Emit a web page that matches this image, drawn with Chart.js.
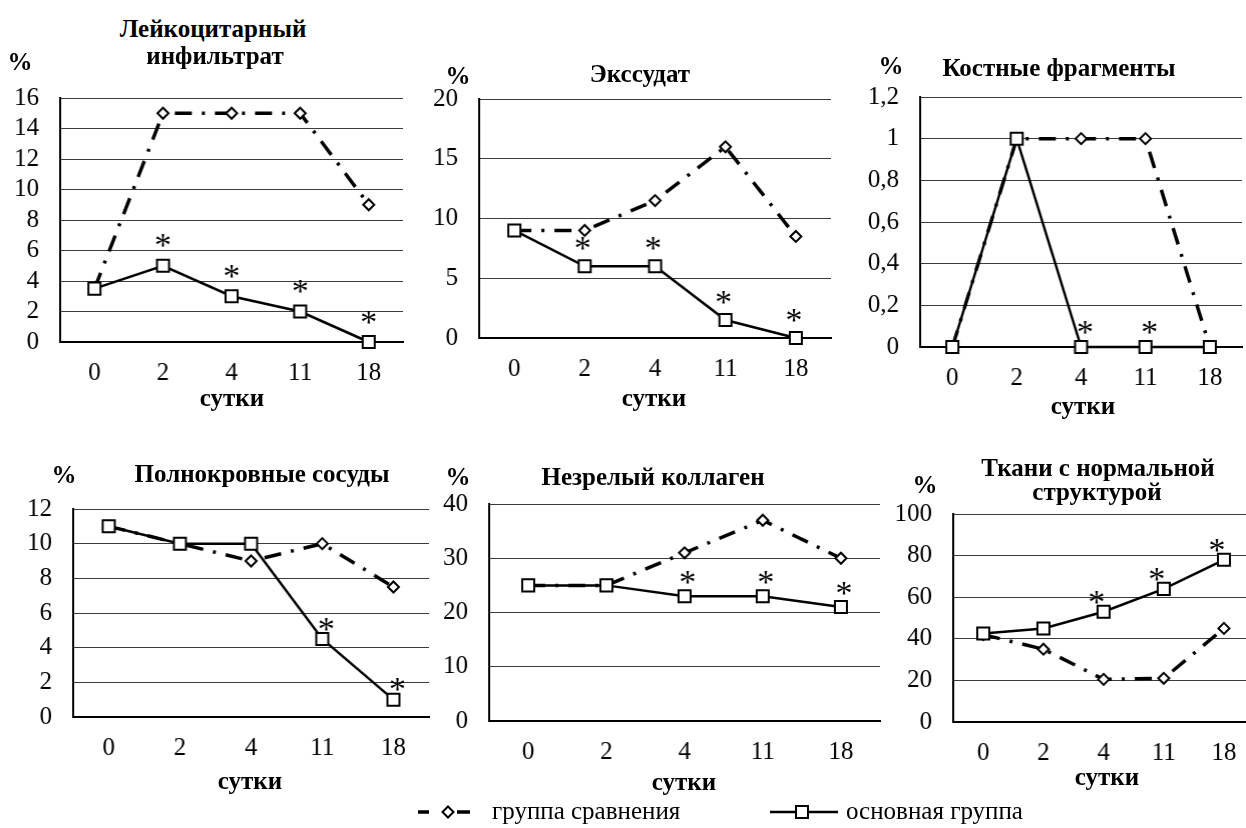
<!DOCTYPE html>
<html><head><meta charset="utf-8">
<script src="https://cdn.jsdelivr.net/npm/chart.js@4.4.1/dist/chart.umd.min.js"></script>
<style>
html,body{margin:0;padding:0;background:#fff;width:1246px;height:828px;overflow:hidden;position:relative;font-family:"Liberation Serif","Times New Roman",serif;color:#000;}
.t{position:absolute;transform:translate(-50%,-50%);white-space:nowrap;font-weight:bold;font-size:25px;line-height:1;}
.lg{position:absolute;transform:translateY(-50%);white-space:nowrap;font-size:25px;line-height:1;}
canvas{position:absolute;}
svg{position:absolute;left:0;top:0;}
</style></head><body>
<script>
// ---- data ----
const days = ['0', '2', '4', '11', '18'];

const leukCompare = [3.5, 15, 15, 15, 9];
const leukMain    = [3.5, 5, 3, 2, 0];
const leukStars   = [0, 1, 1, 1, 1];

const exudCompare = [9, 9, 11.5, 16, 8.5];
const exudMain    = [9, 6, 6, 1.5, 0];
const exudStars   = [0, 1, 1, 1, 1];

const boneCompare = [0, 1, 1, 1, 0];
const boneMain    = [0, 1, 0, 0, 0];
const boneStars   = [0, 0, 1, 1, 0];

const vesCompare  = [11, 10, 9, 10, 7.5];
const vesMain     = [11, 10, 10, 4.5, 1];
const vesStars    = [0, 0, 0, 1, 1];

const collCompare = [25, 25, 31, 37, 30];
const collMain    = [25, 25, 23, 23, 21];
const collStars   = [0, 0, 1, 1, 1];

const tissCompare = [42, 35, 20.5, 21, 45];
const tissMain    = [42.5, 45, 53, 64, 78];
const tissStars   = [0, 0, 1, 1, 1];

const yMax  = [16, 20, 1.2, 12, 40, 100];
const yStep = [2, 5, 0.2, 2, 10, 20];

const titles = [
  ['Лейкоцитарный', 'инфильтрат'],
  ['Экссудат'],
  ['Костные фрагменты'],
  ['Полнокровные сосуды'],
  ['Незрелый коллаген'],
  ['Ткани с нормальной', 'структурой']
];
const unitLabel = '%';
const axisLabel = 'сутки';
const legendCompare = 'группа сравнения';
const legendMain = 'основная группа';

// ---- layout (styles) ----
const panels = [
  {cmp: leukCompare, main: leukMain, stars: leukStars, box:{l:60, t:98, r:402, b:342},
   title:[[213,28],[215,55]], pct:[20,61], xl:[232,397], sd:[0,-25]},
  {cmp: exudCompare, main: exudMain, stars: exudStars, box:{l:479, t:99, r:830, b:338},
   title:[[640,73]], pct:[458,75], xl:[654,397], sd:[-2,-23]},
  {cmp: boneCompare, main: boneMain, stars: boneStars, box:{l:920, t:97, r:1241, b:347},
   title:[[1059,67]], pct:[891,65], xl:[1083,405], sd:[4,-20]},
  {cmp: vesCompare, main: vesMain, stars: vesStars, box:{l:73, t:509, r:428, b:717},
   title:[[262,473]], pct:[64,474], xl:[250,780], sd:[4,-15]},
  {cmp: collCompare, main: collMain, stars: collStars, box:{l:489, t:504, r:879, b:721},
   title:[[653,476]], pct:[458,476], xl:[684,781], sd:[3,-19]},
  {cmp: tissCompare, main: tissMain, stars: tissStars, box:{l:953, t:514, r:1253, b:722},
   title:[[1098,467],[1097,491]], pct:[925,484], xl:[1107,776], sd:[-7,-14]}
];

const FONT = '"Liberation Serif", "Times New Roman", serif';

function addText(cls, txt, x, y) {
  const d = document.createElement('div');
  d.className = cls; d.textContent = txt;
  d.style.left = x + 'px'; d.style.top = y + 'px';
  document.body.appendChild(d);
}

function starPlugin(flags, dx, dy) {
  return {
    id: 'stars',
    afterDatasetsDraw(chart) {
      const meta = chart.getDatasetMeta(0);
      const ctx = chart.ctx;
      ctx.save();
      ctx.font = '34px ' + FONT;
      ctx.fillStyle = '#000';
      ctx.textAlign = 'center';
      ctx.textBaseline = 'alphabetic';
      const m = ctx.measureText('*');
      const cy = (m.actualBoundingBoxAscent - m.actualBoundingBoxDescent) / 2;
      flags.forEach((f, i) => {
        if (!f) return;
        const p = meta.data[i];
        ctx.fillText('*', p.x + dx, p.y + dy + cy);
      });
      ctx.restore();
    }
  };
}

const YW = 70, PR = 10, XH = 50, TOPGUESS = 15;

panels.forEach((p, k) => {
  const W = p.box.r - p.box.l + YW + PR;
  const H = p.box.b - p.box.t + TOPGUESS + XH;
  const c = document.createElement('canvas');
  c.width = W; c.height = H;
  c.style.width = W + 'px'; c.style.height = H + 'px';
  document.body.appendChild(c);

  const chart = new Chart(c, {
    type: 'line',
    data: {
      labels: days,
      datasets: [
        {label: legendMain, data: p.main, borderColor: '#000', borderWidth: 2.5,
         pointStyle: 'rect', pointRadius: 8.5, pointHoverRadius: 8.5, pointBorderWidth: 2,
         pointBackgroundColor: '#fff', pointBorderColor: '#000', tension: 0, clip: false, order: 0},
        {label: legendCompare, data: p.cmp, borderColor: '#000', borderWidth: 3.5,
         borderDash: [17, 10, 3, 10], pointStyle: 'rectRot', pointRadius: 5.5, pointHoverRadius: 5.5,
         pointBorderWidth: 2, pointBackgroundColor: '#fff', pointBorderColor: '#000',
         tension: 0, clip: false, order: 1}
      ]
    },
    options: {
      responsive: false, maintainAspectRatio: false, animation: false, devicePixelRatio: 1,
      events: [],
      layout: {padding: {top: 0, right: PR, left: 0, bottom: 0}},
      plugins: {legend: {display: false}, tooltip: {enabled: false}},
      scales: {
        x: {
          offset: true,
          grid: {display: false, drawTicks: false, offset: true},
          border: {display: true, color: '#000', width: 2},
          ticks: {color: '#000', font: {family: FONT, size: 25}, padding: 16, maxRotation: 0, autoSkip: false},
          afterFit(s) { s.height = XH; }
        },
        y: {
          min: 0, max: yMax[k],
          grid: {color: '#3c3c3c', lineWidth: 1, drawTicks: false},
          border: {display: true, color: '#000', width: 2},
          ticks: {stepSize: yStep[k], autoSkip: false, color: '#000', font: {family: FONT, size: 25}, padding: 21,
                  callback: v => String(Math.round(v * 10) / 10).replace('.', ',')},
          afterFit(s) { s.width = YW; }
        }
      }
    },
    plugins: [starPlugin(p.stars, p.sd[0], p.sd[1])]
  });

  // make the plot area land exactly on the intended box
  let ca = chart.chartArea;
  const wantW = p.box.r - p.box.l, wantH = p.box.b - p.box.t;
  const dw = wantW - (ca.right - ca.left), dh = wantH - (ca.bottom - ca.top);
  if (Math.abs(dw) > 0.5 || Math.abs(dh) > 0.5) {
    chart.resize(W + dw, H + dh);
    ca = chart.chartArea;
  }
  c.style.left = (p.box.l - ca.left) + 'px';
  c.style.top = (p.box.t - ca.top) + 'px';

  titles[k].forEach((line, i) => addText('t', line, p.title[i][0], p.title[i][1]));
  addText('t', unitLabel, p.pct[0], p.pct[1]);
  addText('t', axisLabel, p.xl[0], p.xl[1]);
});

// legend
const NS = 'http://www.w3.org/2000/svg';
const svg = document.createElementNS(NS, 'svg');
svg.setAttribute('width', 1246); svg.setAttribute('height', 828);
svg.innerHTML =
  '<line x1="418" y1="812" x2="429" y2="812" stroke="#000" stroke-width="3.5"/>' +
  '<line x1="457" y1="812" x2="470" y2="812" stroke="#000" stroke-width="3.5"/>' +
  '<path d="M448 806.5 L453.5 812 L448 817.5 L442.5 812 Z" fill="#fff" stroke="#000" stroke-width="2"/>' +
  '<line x1="770" y1="812" x2="838" y2="812" stroke="#000" stroke-width="2.5"/>' +
  '<rect x="796" y="806" width="12" height="12" fill="#fff" stroke="#000" stroke-width="2"/>';
document.body.appendChild(svg);
addText('lg', legendCompare, 492, 810);
addText('lg', legendMain, 846, 810);
</script>
</body></html>
